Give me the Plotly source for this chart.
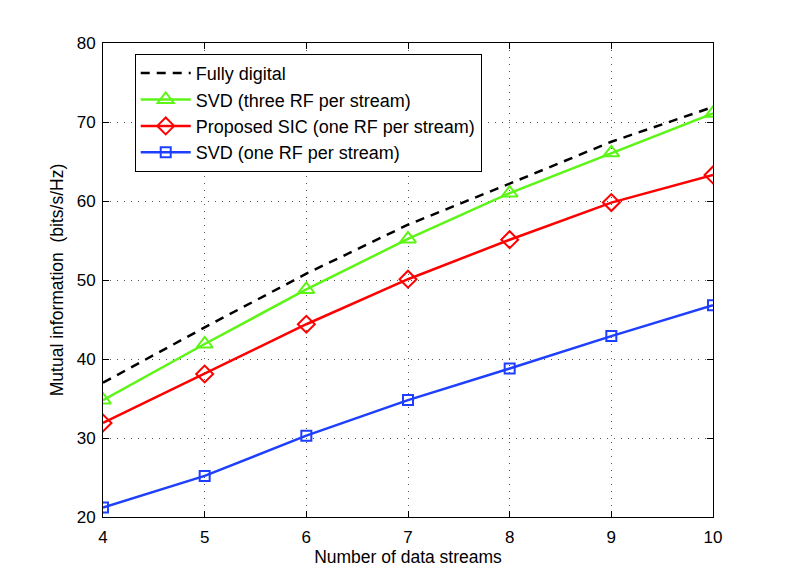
import plotly.graph_objects as go

streams = [4, 5, 6, 7, 8, 9, 10]

fully_digital = [37.0, 44.0, 50.8, 57.0, 62.2, 67.5, 71.9]
svd_three_rf = [34.8, 41.9, 48.8, 55.2, 61.0, 66.1, 71.1]
sic_one_rf = [31.9, 38.1, 44.4, 50.1, 55.1, 59.8, 63.3]
svd_one_rf = [21.2, 25.2, 30.3, 34.8, 38.8, 42.9, 46.8]

names = ["Fully digital", "SVD (three RF per stream)",
         "Proposed SIC (one RF per stream)", "SVD (one RF per stream)"]

font = "Liberation Sans, Arial, sans-serif"

fig = go.Figure()

fig.add_trace(go.Scatter(
    x=streams, y=fully_digital, name=names[0], mode="lines",
    line=dict(color="black", width=2.5, dash="9px,7px"), legendgroup="a"))

fig.add_trace(go.Scatter(
    x=streams, y=svd_three_rf, name=names[1], mode="lines+markers",
    line=dict(color="#5cf516", width=2.5), legendgroup="b",
    marker=dict(symbol="triangle-up-open", size=14, color="#5cf516",
                line=dict(width=2))))

fig.add_trace(go.Scatter(
    x=streams, y=sic_one_rf, name=names[2], mode="lines+markers",
    line=dict(color="#ff0000", width=2.5), legendgroup="c",
    marker=dict(symbol="diamond-open", size=13, color="#ff0000",
                line=dict(width=2))))

fig.add_trace(go.Scatter(
    x=streams, y=svd_one_rf, name=names[3], mode="lines+markers",
    line=dict(color="#1f3fff", width=2.5), legendgroup="d",
    marker=dict(symbol="square-open", size=10, color="#1f3fff",
                line=dict(width=2))))

axis_common = dict(
    showline=True, linecolor="black", linewidth=1, mirror="ticks",
    ticks="inside", ticklen=6, tickcolor="black",
    showgrid=True, gridcolor="#555555", griddash="1px,6px", gridwidth=1,
    zeroline=False, tickfont=dict(size=17, color="black"),
)

fig.update_xaxes(range=[4, 10], tickmode="array", tickvals=streams,
                 ticklabelstandoff=5,
                 title=dict(text="Number of data streams", font=dict(size=17.5), standoff=2),
                 **axis_common)
fig.update_yaxes(range=[20, 80], tickmode="array",
                 tickvals=[20, 30, 40, 50, 60, 70, 80],
                 ticklabelstandoff=3,
                 title=dict(text="Mutual information  (bits/s/Hz)", font=dict(size=17.5), standoff=8),
                 **axis_common)

# page body has an 8px margin, so the figure is shrunk and margins shifted
fig.update_layout(
    width=781, height=574,
    margin=dict(l=95, r=76, t=35, b=65),
    paper_bgcolor="white", plot_bgcolor="white",
    font=dict(family=font, color="black", size=17),
    showlegend=True,
    legend=dict(x=0.052, y=0.977, xanchor="left", yanchor="top",
                bgcolor="white", bordercolor="black", borderwidth=1,
                font=dict(size=18), traceorder="grouped", tracegroupgap=0,
                itemwidth=50),
)

fig.write_html("out.html")
